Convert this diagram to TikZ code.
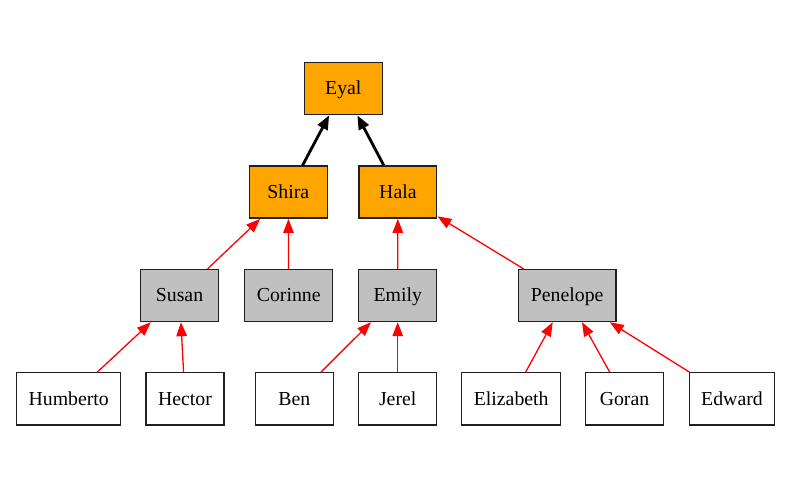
\documentclass[tikz,border=0pt]{standalone}
\usepackage{fontspec}
\setmainfont{Liberation Serif}
\usetikzlibrary{arrows.meta}
\definecolor{gvorange}{HTML}{FFA500}
\definecolor{gvgray}{HTML}{C0C0C0}
\definecolor{gvborder}{HTML}{202020}
\begin{document}
\begin{tikzpicture}[x=1pt,y=1pt,
  person/.style={draw=gvborder, line width=1.4pt, rectangle, minimum height=52pt, inner sep=0pt,
     text height=13.5pt, text depth=1.1pt,
     font=\fontsize{19.8}{24}\selectfont},
  lead/.style={person, fill=gvorange},
  mid/.style={person, fill=gvgray},
  leaf/.style={person, fill=white},
  topedge/.style={line width=2.8pt, black, -{Triangle[length=14pt,width=11pt]}},
  redge/.style={line width=1.3pt, red, -{Triangle[length=14pt,width=10.5pt]}}
]
\useasboundingbox (0,0) rectangle (796,-489);
\node[lead, minimum width=78pt] (eyal) at (343.3,-88.7) {Eyal};
\node[lead, minimum width=78pt] (shira) at (288.3,-192.2) {Shira};
\node[lead, minimum width=77.7pt] (hala) at (397.9,-192.2) {Hala};
\node[mid, minimum width=77.6pt] (susan) at (179.5,-295.5) {Susan};
\node[mid, minimum width=88pt] (corinne) at (288.7,-295.5) {Corinne};
\node[mid, minimum width=78pt] (emily) at (397.7,-295.5) {Emily};
\node[mid, minimum width=97.7pt] (penelope) at (567.2,-295.5) {Penelope};
\node[leaf, minimum width=104pt] (humberto) at (68.7,-398.8) {Humberto};
\node[leaf, minimum width=78pt] (hector) at (185,-398.8) {Hector};
\node[leaf, minimum width=78pt] (ben) at (294.3,-398.8) {Ben};
\node[leaf, minimum width=78pt] (jerel) at (397.7,-398.8) {Jerel};
\node[leaf, minimum width=99pt] (elizabeth) at (511.2,-398.8) {Elizabeth};
\node[leaf, minimum width=77.6pt] (goran) at (624.5,-398.8) {Goran};
\node[leaf, minimum width=84.6pt] (edward) at (732,-398.8) {Edward};
\draw[topedge] (shira) -- (eyal);
\draw[topedge] (hala) -- (eyal);
\draw[redge] (susan) -- (shira);
\draw[redge] (corinne) -- (shira);
\draw[redge] (emily) -- (hala);
\draw[redge] (penelope) -- (hala);
\draw[redge] (humberto) -- (susan);
\draw[redge] (hector) -- (susan);
\draw[redge] (ben) -- (emily);
\draw[redge] (jerel) -- (emily);
\draw[redge] (elizabeth) -- (penelope);
\draw[redge] (goran) -- (penelope);
\draw[redge] (edward) -- (penelope);
\end{tikzpicture}
\end{document}
